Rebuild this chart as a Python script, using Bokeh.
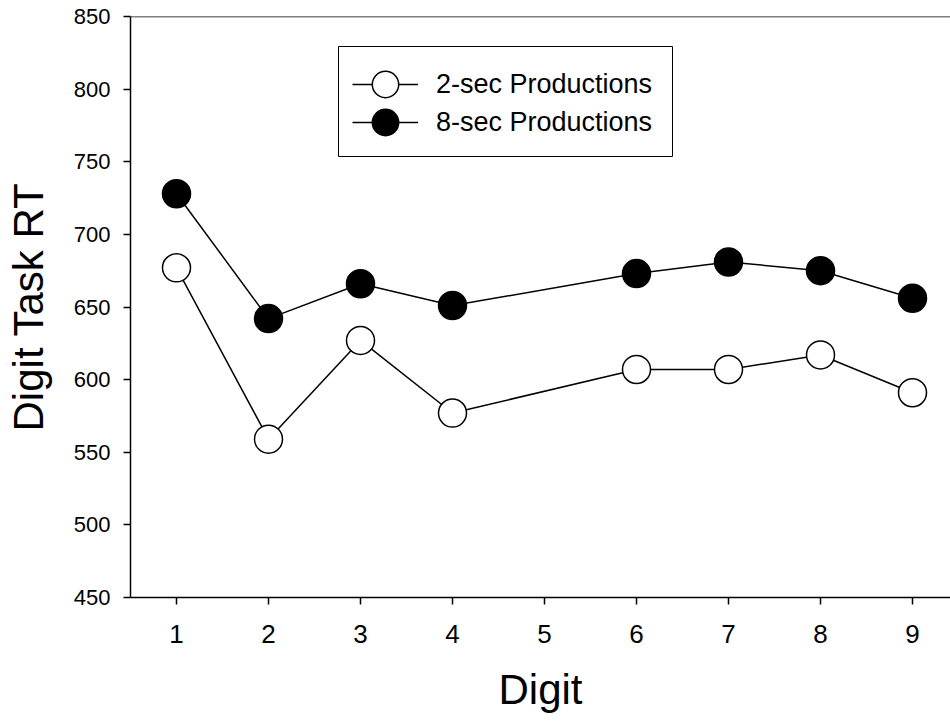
from bokeh.plotting import figure
from bokeh.models import Range1d, FixedTicker, Span, Legend, LegendItem, BoxAnnotation
from bokeh.embed import file_html
from bokeh.resources import INLINE

digits = [1, 2, 3, 4, 6, 7, 8, 9]
rt_2sec = [677, 559, 627, 577, 607, 607, 617, 591]
rt_8sec = [728, 642, 666, 651, 673, 681, 675, 656]
x_ticks = [1, 2, 3, 4, 5, 6, 7, 8, 9]
y_ticks = [450, 500, 550, 600, 650, 700, 750, 800, 850]

FONT = "Liberation Sans"

p = figure(width=950, height=722, output_backend="svg", toolbar_location=None,
           x_range=Range1d(0.5, 9.413), y_range=Range1d(450, 850),
           min_border_left=130, min_border_right=0, min_border_top=16, min_border_bottom=125)
p.outline_line_color = None
p.grid.grid_line_color = None
p.background_fill_color = "white"
p.border_fill_color = "white"

p.xaxis.ticker = FixedTicker(ticks=x_ticks)
p.yaxis.ticker = FixedTicker(ticks=y_ticks)
for ax in (p.xaxis[0], p.yaxis[0]):
    ax.axis_line_color = "black"
    ax.axis_line_width = 1.5
    ax.major_tick_line_color = "black"
    ax.major_tick_line_width = 1.5
    ax.major_tick_in = 0
    ax.major_tick_out = 7
    ax.minor_tick_line_color = None
    ax.major_label_text_font = FONT
    ax.major_label_text_color = "black"
    ax.axis_label_text_font = FONT
    ax.axis_label_text_font_style = "normal"
    ax.axis_label_text_color = "black"
    ax.axis_label_text_font_size = "42px"

p.xaxis.major_label_text_font_size = "26px"
p.yaxis.major_label_text_font_size = "22px"
p.xaxis.major_label_standoff = 20
p.yaxis.major_label_standoff = 13
p.xaxis.axis_label = "Digit"
p.yaxis.axis_label = "Digit Task RT"
p.xaxis.axis_label_standoff = 20
p.yaxis.axis_label_standoff = 19

top = Span(location=850, dimension="width", line_color="black", line_width=1.5)
p.add_layout(top)

l2 = p.line(digits, rt_2sec, line_color="black", line_width=1.5)
s2 = p.scatter(digits, rt_2sec, size=28, marker="circle", fill_color="white",
               line_color="black", line_width=1.5)
l8 = p.line(digits, rt_8sec, line_color="black", line_width=1.5)
s8 = p.scatter(digits, rt_8sec, size=28, marker="circle", fill_color="black",
               line_color="black", line_width=1.5)

# legend frame
frame = BoxAnnotation(left=338, right=672, top=46, bottom=156,
                      left_units="canvas", right_units="canvas",
                      top_units="canvas", bottom_units="canvas",
                      fill_color=None, line_color="black", line_alpha=1, line_width=1)
p.add_layout(frame)


def make_legend(label, renderers, loc):
    lg = Legend(items=[LegendItem(label=label, renderers=renderers)], location=loc)
    lg.border_line_color = None
    lg.background_fill_alpha = 0
    lg.label_text_font = FONT
    lg.label_text_font_size = "27px"
    lg.label_text_color = "black"
    lg.glyph_width = 66
    lg.glyph_height = 66
    lg.label_height = 66
    lg.padding = 0
    lg.margin = 0
    lg.spacing = 0
    lg.label_standoff = 18
    return lg


p.add_layout(make_legend("2-sec Productions", [l2, s2], (222, 480)), "center")
p.add_layout(make_legend("8-sec Productions", [l8, s8], (222, 442)), "center")

open("out.html", "w").write(file_html(p, INLINE))
